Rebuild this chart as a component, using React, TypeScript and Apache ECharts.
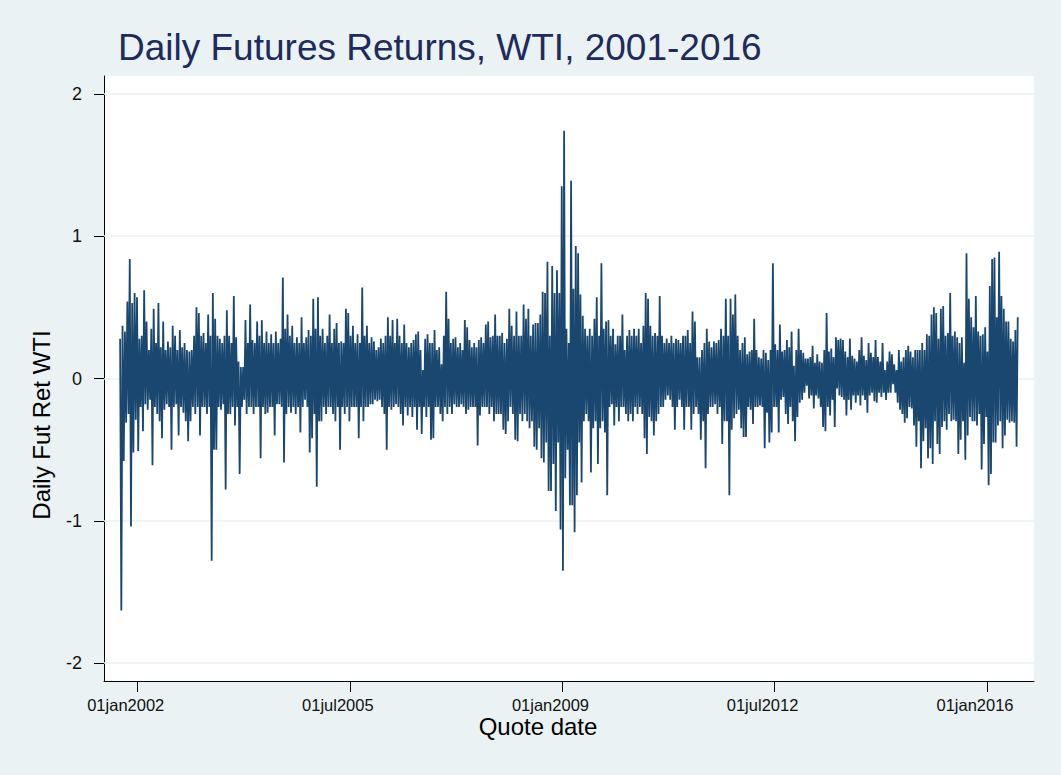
import React, { useEffect, useRef } from "react";
import * as echarts from "echarts";

// Weekly readings of daily WTI futures returns (alternating local highs / lows)
const y2001 = [0.28, -1.63, 0.37, -0.58, 0.33, -0.31, 0.54, -0.25, 0.84, -1.04, 0.53, -0.52, 0.6, -0.29, 0.57];
const y2002 = [-0.51, 0.28, -0.2, 0.3, -0.37, 0.62, -0.18, 0.4, -0.22, 0.2, -0.15, 0.35, -0.61, 0.49, -0.2, 0.25, -0.25, 0.53, -0.3, 0.22, -0.42, 0.4, -0.22, 0.2, -0.18, 0.26, -0.2, 0.22, -0.5, 0.37, -0.2, 0.3, -0.18, 0.2, -0.4, 0.34, -0.2, 0.22, -0.24, 0.25, -0.3, 0.2, -0.44, 0.19, -0.3, 0.2, -0.2, 0.3, -0.25, 0.5, -0.2];
const y2003 = [0.46, -0.4, 0.3, -0.2, 0.32, -0.2, 0.25, -0.25, 0.45, -0.2, 0.3, -1.28, 0.6, -0.5, 0.42, -0.5, 0.3, -0.2, 0.28, -0.22, 0.25, -0.18, 0.3, -0.78, 0.48, -0.25, 0.3, -0.25, 0.25, -0.2, 0.58, -0.33, 0.29, -0.2, 0.12, -0.67, 0.08, -0.2, 0.08, -0.15, 0.41, -0.25, 0.25, -0.2, 0.52, -0.2, 0.27, -0.25, 0.25, -0.2, 0.4, -0.2];
const y2004 = [0.3, -0.56, 0.41, -0.2, 0.25, -0.25, 0.33, -0.24, 0.25, -0.2, 0.31, -0.2, 0.25, -0.4, 0.33, -0.18, 0.25, -0.18, 0.28, -0.2, 0.71, -0.59, 0.35, -0.25, 0.45, -0.2, 0.3, -0.24, 0.37, -0.2, 0.25, -0.25, 0.29, -0.2, 0.25, -0.38, 0.43, -0.2, 0.25, -0.15, 0.29, -0.2, 0.34, -0.52, 0.3, -0.42, 0.56, -0.25, 0.35, -0.76, 0.57, -0.3];
const y2005 = [0.3, -0.3, 0.35, -0.2, 0.25, -0.25, 0.3, -0.2, 0.45, -0.2, 0.25, -0.25, 0.35, -0.3, 0.39, -0.2, 0.25, -0.5, 0.26, -0.2, 0.25, -0.25, 0.49, -0.2, 0.46, -0.3, 0.3, -0.2, 0.37, -0.2, 0.25, -0.2, 0.31, -0.42, 0.25, -0.2, 0.64, -0.3, 0.3, -0.2, 0.37, -0.2, 0.25, -0.18, 0.29, -0.18, 0.26, -0.15, 0.2, -0.16, 0.22, -0.15];
const y2006 = [0.28, -0.2, 0.25, -0.25, 0.3, -0.5, 0.43, -0.2, 0.3, -0.22, 0.41, -0.2, 0.25, -0.18, 0.42, -0.2, 0.3, -0.25, 0.25, -0.33, 0.38, -0.2, 0.25, -0.26, 0.22, -0.2, 0.25, -0.27, 0.27, -0.2, 0.31, -0.36, 0.33, -0.2, 0.2, -0.39, 0.06, -0.2, 0.28, -0.27, 0.31, -0.2, 0.25, -0.43, 0.25, -0.42, 0.34, -0.2, 0.2, -0.2, 0.22, -0.25];
const y2007 = [0.1, -0.3, 0.3, -0.2, 0.61, -0.25, 0.42, -0.2, 0.25, -0.25, 0.28, -0.18, 0.29, -0.2, 0.22, -0.2, 0.25, -0.18, 0.2, -0.2, 0.41, -0.25, 0.36, -0.22, 0.27, -0.2, 0.22, -0.2, 0.25, -0.2, 0.22, -0.47, 0.27, -0.26, 0.29, -0.2, 0.25, -0.2, 0.38, -0.2, 0.4, -0.25, 0.29, -0.2, 0.3, -0.3, 0.45, -0.25, 0.3, -0.25, 0.3, -0.25];
const y2008 = [0.32, -0.36, 0.25, -0.39, 0.28, -0.3, 0.49, -0.2, 0.37, -0.25, 0.3, -0.43, 0.47, -0.44, 0.3, -0.25, 0.3, -0.3, 0.52, -0.25, 0.42, -0.3, 0.49, -0.35, 0.3, -0.3, 0.38, -0.48, 0.39, -0.5, 0.39, -0.35, 0.45, -0.56, 0.61, -0.59, 0.6, -0.45, 0.82, -0.79, 0.3, -0.79, 0.79, -0.6, 0.6, -0.93, 0.76, -0.45, 0.6, -1.06, 1.35];
const y2009 = [-1.35, 1.74, -0.7, 0.35, -0.5, 0.25, -0.89, 1.39, -0.89, 0.63, -1.08, 0.93, -0.82, 0.88, -0.45, 0.59, -0.73, 0.44, -0.3, 0.35, -0.25, 0.3, -0.3, 0.35, -0.66, 0.3, -0.35, 0.42, -0.3, 0.57, -0.6, 0.3, -0.35, 0.81, -0.3, 0.35, -0.38, 0.4, -0.82, 0.41, -0.2, 0.3, -0.18, 0.35, -0.33, 0.24, -0.2, 0.3, -0.3, 0.3, -0.2, 0.45];
const y2010 = [-0.2, 0.2, -0.25, 0.3, -0.3, 0.34, -0.25, 0.3, -0.3, 0.35, -0.2, 0.3, -0.25, 0.35, -0.2, 0.25, -0.25, 0.37, -0.42, 0.6, -0.53, 0.56, -0.27, 0.37, -0.3, 0.3, -0.4, 0.32, -0.3, 0.3, -0.25, 0.58, -0.2, 0.3, -0.2, 0.25, -0.15, 0.28, -0.12, 0.25, -0.15, 0.3, -0.2, 0.25, -0.36, 0.28, -0.2, 0.27, -0.15, 0.25, -0.2, 0.3];
const y2011 = [-0.36, 0.3, -0.2, 0.34, -0.2, 0.25, -0.36, 0.47, -0.25, 0.4, -0.2, 0.15, -0.25, 0.15, -0.43, 0.2, -0.3, 0.25, -0.63, 0.35, -0.25, 0.26, -0.2, 0.22, -0.2, 0.26, -0.18, 0.25, -0.25, 0.27, -0.2, 0.35, -0.46, 0.3, -0.3, 0.56, -0.3, 0.3, -0.82, 0.56, -0.36, 0.45, -0.28, 0.59, -0.25, 0.3, -0.22, 0.2, -0.35, 0.25, -0.41];
const y2012 = [0.29, -0.41, 0.17, -0.2, 0.19, -0.22, 0.2, -0.32, 0.42, -0.2, 0.2, -0.2, 0.15, -0.19, 0.14, -0.2, 0.2, -0.49, 0.18, -0.24, 0.13, -0.45, 0.2, -0.38, 0.81, -0.2, 0.24, -0.2, 0.2, -0.38, 0.38, -0.15, 0.19, -0.13, 0.2, -0.25, 0.27, -0.32, 0.22, -0.2, 0.33, -0.3, 0.09, -0.44, 0.2, -0.27, 0.35, -0.17, 0.2, -0.15, 0.18, -0.1];
const y2013 = [0.14, -0.05, 0.14, -0.14, 0.15, -0.12, 0.23, -0.21, 0.11, -0.12, 0.17, -0.14, 0.12, -0.2, 0.11, -0.34, 0.2, -0.37, 0.46, -0.2, 0.19, -0.26, 0.21, -0.15, 0.15, -0.34, 0.29, -0.07, 0.27, -0.12, 0.28, -0.13, 0.27, -0.15, 0.19, -0.26, 0.15, -0.15, 0.28, -0.22, 0.16, -0.12, 0.14, -0.17, 0.12, -0.12, 0.2, -0.19, 0.29, -0.12, 0.16, -0.15];
const y2014 = [0.13, -0.24, 0.25, -0.12, 0.18, -0.1, 0.15, -0.16, 0.27, -0.17, 0.15, -0.1, 0.12, -0.13, 0.25, -0.1, 0.06, -0.15, 0.12, -0.1, 0.19, -0.1, 0.17, -0.04, 0.1, -0.1, 0.06, -0.17, 0.2, -0.22, 0.12, -0.25, 0.15, -0.31, 0.2, -0.28, 0.23, -0.2, 0.19, -0.21, 0.15, -0.33, 0.2, -0.48, 0.2, -0.3, 0.2, -0.63, 0.25, -0.44, 0.2, -0.35];
const y2015 = [0.31, -0.56, 0.3, -0.49, 0.45, -0.6, 0.5, -0.3, 0.46, -0.46, 0.28, -0.53, 0.49, -0.34, 0.51, -0.3, 0.3, -0.36, 0.32, -0.25, 0.6, -0.3, 0.3, -0.29, 0.33, -0.3, 0.29, -0.53, 0.25, -0.43, 0.29, -0.3, 0.11, -0.57, 0.88, -0.4, 0.56, -0.27, 0.43, -0.3, 0.36, -0.3, 0.58, -0.33, 0.33, -0.25, 0.3, -0.64, 0.31, -0.46, 0.36, -0.27];
const y2016 = [0.19, -0.75, 0.65, -0.67, 0.84, -0.45, 0.85, -0.45, 0.43, -0.33, 0.89, -0.3, 0.58, -0.49, 0.49, -0.4, 0.4, -0.29, 0.4, -0.31, 0.28, -0.3, 0.26, -0.31, 0.34, -0.48, 0.43];

// Each block of readings spreads evenly from its start date to the next one
const blockStarts = [
  "2001-09-17", "2002-01-04", "2003-01-04", "2004-01-04", "2005-01-04", "2006-01-04",
  "2007-01-04", "2008-01-04", "2009-01-04", "2010-01-04", "2011-01-04", "2012-01-04",
  "2013-01-04", "2014-01-04", "2015-01-04", "2016-01-04", "2016-07-11",
];
const blockValues = [
  y2001, y2002, y2003, y2004, y2005, y2006, y2007, y2008,
  y2009, y2010, y2011, y2012, y2013, y2014, y2015, y2016,
];

const tickDates = ["2002-01-01", "2005-07-01", "2009-01-01", "2012-07-01", "2016-01-01"];
const yTicks = [-2, -1, 0, 1, 2];
const monthNames = ["jan", "feb", "mar", "apr", "may", "jun", "jul", "aug", "sep", "oct", "nov", "dec"];

const toMs = (s: string) => Date.parse(s + "T00:00:00Z");

function buildData() {
  const out: [number, number][] = [];
  blockValues.forEach((vals, b) => {
    const t0 = toMs(blockStarts[b]);
    const t1 = toMs(blockStarts[b + 1]);
    const step = (t1 - t0) / vals.length;
    vals.forEach((v, k) => out.push([t0 + k * step, v]));
  });
  return out;
}

const FONT = "'Liberation Sans', Arial, Helvetica, sans-serif";

export default function App() {
  const ref = useRef<HTMLDivElement>(null);
  useEffect(() => {
    if (!ref.current) return;
    const chart = echarts.init(ref.current, undefined, { renderer: "svg" });
    const tickMs = tickDates.map(toMs);
    chart.setOption({
      animation: false,
      backgroundColor: "#EAF2F3",
      textStyle: { fontFamily: FONT },
      title: {
        text: "Daily Futures Returns, WTI, 2001-2016",
        left: 118,
        top: 29,
        padding: 0,
        textStyle: { fontSize: 37, fontWeight: "normal", color: "#1E2B5C", fontFamily: FONT },
      },
      grid: {
        left: 104,
        right: 27,
        top: 76,
        bottom: 94,
        show: true,
        backgroundColor: "#FFFFFF",
        borderWidth: 0,
      },
      xAxis: {
        type: "value",
        min: toMs("2001-06-12"),
        max: toMs("2016-10-10"),
        axisLine: { show: true, onZero: false, lineStyle: { color: "#000", width: 1 } },
        axisTick: { show: true, length: 11, customValues: tickMs, lineStyle: { color: "#000", width: 1 } },
        axisLabel: {
          customValues: tickMs,
          margin: 15,
          fontSize: 16.5,
          color: "#111",
          fontFamily: FONT,
          padding: [0, 24, 0, 0],
          formatter: (v: number) => {
            const d = new Date(v);
            return String(d.getUTCDate()).padStart(2, "0") + monthNames[d.getUTCMonth()] + d.getUTCFullYear();
          },
        },
        splitLine: { show: false },
      },
      yAxis: {
        type: "value",
        min: -2.125,
        max: 2.125,
        axisLine: { show: true, lineStyle: { color: "#000", width: 1 } },
        axisTick: { show: true, length: 10, customValues: yTicks, lineStyle: { color: "#000", width: 1 } },
        axisLabel: { customValues: yTicks, margin: 22, fontSize: 18, color: "#111", fontFamily: FONT },
        splitLine: { show: false },
      },
      graphic: [
        {
          type: "text",
          x: 41,
          y: 425,
          rotation: Math.PI / 2,
          style: {
            text: "Daily Fut Ret WTI",
            font: `24px ${FONT}`,
            fill: "#000",
            textAlign: "center",
            textVerticalAlign: "middle",
          },
        },
        {
          type: "text",
          x: 538,
          y: 726,
          style: {
            text: "Quote date",
            font: `24px ${FONT}`,
            fill: "#000",
            textAlign: "center",
            textVerticalAlign: "middle",
          },
        },
      ],
      series: [
        {
          type: "line",
          data: [[toMs("2001-06-12"), null]],
          showSymbol: false,
          silent: true,
          z: 1,
          markLine: {
            z: 1,
            silent: true,
            symbol: "none",
            label: { show: false },
            lineStyle: { color: "#EAF2F3", width: 1.5, type: "solid" },
            data: yTicks.map((t) => ({ yAxis: t })),
          },
        },
        {
          type: "line",
          data: buildData(),
          showSymbol: false,
          z: 3,
          lineStyle: { color: "#1A476F", width: 1.8 },
          itemStyle: { color: "#1A476F" },
        },
      ],
    });
    return () => chart.dispose();
  }, []);
  return <div ref={ref} style={{ position: "fixed", left: 0, top: 0, width: 1061, height: 775 }} />;
}
